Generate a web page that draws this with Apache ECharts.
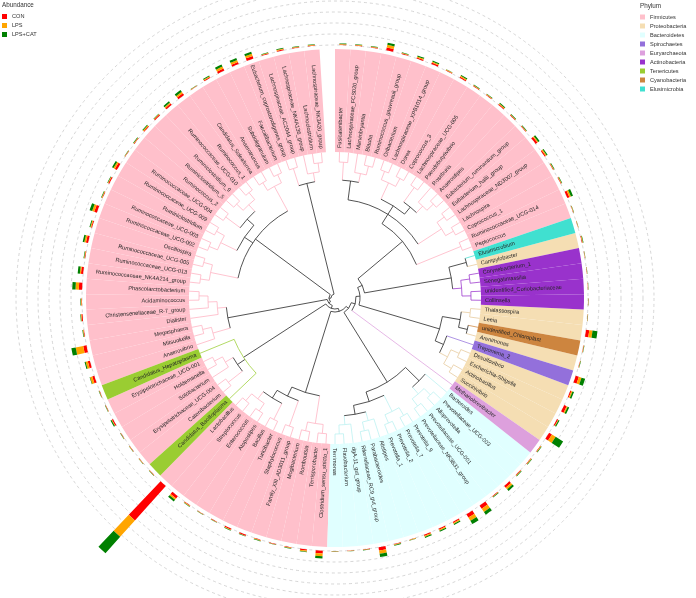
<!DOCTYPE html>
<html><head><meta charset="utf-8">
<script src="https://cdn.jsdelivr.net/npm/echarts@6/dist/echarts.min.js"></script>
<style>html,body{margin:0;padding:0;background:#fff}#c{width:696px;height:598px}</style>
</head><body><div id="c"></div>
<script>
// ---------------- data ----------------
const genera = ['Fusicatenibacter','Lachnospiraceae_FCS020_group','Marvinbryantia','Blautia','Ruminococcus_gauvreauii_group','Oribacterium','Lachnospiraceae_XPB1014_group','Dorea','Coprococcus_3','Lachnospiraceae_UCG-005','Pseudobutyrivibrio','Roseburia','Anaerostipes','Eubacterium_ruminantium_group','Eubacterium_hallii_group','Lachnospiraceae_ND3007_group','Lachnospira','Coprococcus_1','Ruminococcaceae_UCG-014','Peptococcus',
'Elusimicrobium','Campylobacter','Corynebacterium_1','Senegalimassilia','unidentified_Coriobacteriaceae','Collinsella','Thalassospira','Leeia','unidentified_Chloroplast','Arenimonas','Treponema_2','Desulfovibrio','Escherichia-Shigella','Actinobacillus','Succinivibrio','Methanobrevibacter',
'Bacteroides','Prevotellaceae_UCG-003','Alloprevotella','Prevotellaceae_UCG-001','Prevotellaceae_NK3B31_group','Prevotella_9','Prevotella_7','Prevotella_2','Prevotella_1','Alistipes','Parabacteroides','Rikenellaceae_RC9_gut_group','dgA-11_gut_group','Flavobacterium','Terrimonas',
'Clostridium_sensu_stricto_1','Terrisporobacter','Romboutsia','Mogibacterium','Family_XIII_AD3011_group','Staphylococcus','Turicibacter','Bacillus','Atopostipes','Enterococcus','Streptococcus','Lactobacillus',
'Candidatus_Bacilloplasma','Catenibacterium','Erysipelotrichaceae_UCG-004','Solobacterium','Holdemanella','Erysipelotrichaceae_UCG-001','Candidatus_Hepatoplasma',
'Anaerovibrio','Mitsuokella','Megasphaera','Dialister','Christensenellaceae_R-7_group','Acidaminococcus','Phascolarctobacterium',
'Ruminococcaceae_NK4A214_group','Ruminococcaceae_UCG-013','Ruminococcaceae_UCG-005','Oscillospira','Ruminococcaceae_UCG-002','Ruminococcaceae_UCG-003','Ruminiclostridium','Ruminococcaceae_UCG-009','Ruminococcaceae_UCG-004','Ruminococcus_2','Ruminiclostridium_5','Ruminiclostridium_9','Ruminococcaceae_UCG-010','Ruminococcus_1','Candidatus_Soleaferrea','Anaerotruncus','Subdoligranulum','Faecalibacterium','Eubacterium_coprostanoligenes_group','Lachnospiraceae_AC2044_group','Lachnospiraceae_NK4A136_group','Lachnoclostridium','Lachnospiraceae_NK3A20_group'];

const phylumNames = ['Firmicutes','Proteobacteria','Bacteroidetes','Spirochaetes','Euryarchaeota','Actinobacteria','Tenericutes','Cyanobacteria','Elusimicrobia'];
// F Firmicutes, P Proteobacteria, B Bacteroidetes, S Spirochaetes, E Euryarchaeota, A Actinobacteria, T Tenericutes, C Cyanobacteria, L Elusimicrobia
const phylumCodes = ['F','P','B','S','E','A','T','C','L'];
const leafPhylum = ['F','F','F','F','F','F','F','F','F','F','F','F','F','F','F','F','F','F','F','F',
'L','P','A','A','A','A','P','P','C','P','S','P','P','P','P','E',
'B','B','B','B','B','B','B','B','B','B','B','B','B','B','B',
'F','F','F','F','F','F','F','F','F','F','F','F',
'T','F','F','F','F','F','T',
'F','F','F','F','F','F','F',
'F','F','F','F','F','F','F','F','F','F','F','F','F','F','F','F','F','F','F','F','F','F','F'];

const groupNames = ['CON','LPS','LPS+CAT'];
// relative abundance per genus (axis units)
const abCON = [0.05,0.05,0.05,0.25,0.05,0.1,0.15,0.05,0.1,0.05,0.05,0.08,0.05,0.05,0.2,0.1,0.05,0.05,0.2,0.03,
0.02,0.05,0.02,0.02,0.02,0.02,0.02,0.3,0.03,0.03,0.3,0.1,0.25,0.1,0.3,0.05,
0.05,0.05,0.2,0.05,0.35,0.35,0.1,0.1,0.1,0.03,0.05,0.3,0.03,0.02,0.02,
0.25,0.1,0.05,0.03,0.05,0.1,0.1,0.03,0.03,0.05,0.25,4.2,
0.03,0.03,0.03,0.03,0.1,0.03,0.03,
0.2,0.2,0.3,0.05,0.1,0.05,0.3,
0.2,0.05,0.2,0.08,0.25,0.05,0.1,0.2,0.03,0.05,0.08,0.1,0.15,0.2,0.03,0.08,0.2,0.2,0.25,0.05,0.08,0.05,0.05];
const abLPS = [0.05,0.05,0.05,0.25,0.05,0.1,0.1,0.05,0.1,0.05,0.05,0.08,0.05,0.05,0.1,0.1,0.05,0.05,0.15,0.03,
0.02,0.05,0.02,0.02,0.02,0.02,0.02,0.3,0.03,0.03,0.25,0.1,0.1,0.05,0.4,0.05,
0.05,0.05,0.2,0.05,0.35,0.35,0.1,0.1,0.1,0.03,0.05,0.3,0.03,0.02,0.02,
0.25,0.1,0.05,0.03,0.05,0.03,0.05,0.03,0.03,0.05,0.15,2.0,
0.03,0.03,0.03,0.03,0.05,0.03,0.03,
0.2,0.2,0.7,0.05,0.05,0.05,0.3,
0.1,0.05,0.15,0.08,0.2,0.05,0.05,0.15,0.03,0.05,0.08,0.05,0.1,0.15,0.03,0.08,0.2,0.2,0.2,0.05,0.08,0.05,0.05];
const abCAT = [0.05,0.05,0.05,0.2,0.05,0.1,0.1,0.03,0.1,0.05,0.05,0.08,0.05,0.05,0.15,0.1,0.05,0.05,0.2,0.03,
0.02,0.05,0.02,0.02,0.02,0.02,0.02,0.45,0.03,0.03,0.35,0.15,0.15,0.1,0.8,0.05,
0.05,0.05,0.2,0.05,0.3,0.35,0.1,0.1,0.1,0.03,0.05,0.3,0.03,0.02,0.02,
0.2,0.05,0.05,0.03,0.05,0.03,0.05,0.03,0.03,0.05,0.2,2.0,
0.03,0.03,0.03,0.03,0.1,0.03,0.03,
0.05,0.1,0.4,0.05,0.05,0.05,0.3,
0.2,0.05,0.15,0.08,0.25,0.05,0.05,0.15,0.03,0.05,0.08,0.05,0.15,0.2,0.03,0.08,0.2,0.2,0.2,0.05,0.08,0.05,0.05];

// tree topology (leaf = genus index)
const cladeLachR = [[[[0,1],[2,[3,4]]],[[[5,6],[7,8]],[[9,10],[11,[12,13]]]],[[14,15],[16,17]]],[18,19]];
const cladeMisc = [[20,21],[[22,23],[24,25]]];
const cladeProt = [[[26,27],[28,29]],[30,[[31,32],[33,34]]]];
const cladeEury = 35;
const cladeBact = [[36,[[37,38],[39,40]]],[[[41,42],[43,44]],[[45,[46,47]],[48,[49,50]]]]];
const cladeBacilli = [[[51,52],[53,54]],[[55,56],[[57,58],[[59,60],[61,62]]]]];
const cladeEry = [63,[[64,65],[66,[67,68]]],69];
const cladeNeg = [[70,[71,72]],[73,[74,[75,76]]]];
const cladeRum = [[[77,78],[79,80]],[[[81,82],[83,84]],[[85,86],[[87,88],[89,90]]]],[[91,92],[93,94]]];
const cladeLachL = [[95,96],[97,[98,99]]];
const tree = [[[[[[[[[cladeLachR, cladeMisc], cladeProt], cladeEury], cladeBact], cladeBacilli], cladeEry], cladeNeg], cladeRum], cladeLachL];

// ---------------- styles ----------------
const phylumColors = ['#FFC0CB','#F5DEB3','#E0FFFF','#9370DB','#DDA0DD','#9932CC','#9ACD32','#CD853F','#40E0D0'];
const branchColors = ['#FFB0C0','#E6C89A','#B8F0F0','#9370DB','#DDA0DD','#9932CC','#9ACD32','#CD853F','#40E0D0'];
const groupColors = ['#FF0000','#FFA500','#008000'];
const TIP_R = 146, BAND_R = 249, LABEL_R = 150;
const radiusByHeight = [146,136,127,118,109,99,88,30,25,21,17,14,11,8,6,4];
const FONT = 'Liberation Sans, Arial, Helvetica, sans-serif';

const cats = genera.concat(['']);
const phIdx = c => phylumCodes.indexOf(c);

function layoutTree(t){
  const nodes = [];
  function walk(x){
    let n;
    if (typeof x === 'number'){ n = {f:x, h:0, ph:leafPhylum[x], size:1}; }
    else {
      const ch = x.map(walk);
      n = {children:ch, f:(ch[0].f + ch[ch.length-1].f)/2, h:Math.max(...ch.map(c=>c.h))+1,
           size: ch.reduce((s,c)=>s+c.size,0)};
      const ps = new Set(ch.map(c=>c.ph));
      n.ph = (ps.size===1 && !ps.has(null)) ? ch[0].ph : null;
      const a = ch[0].ph, b = ch[ch.length-1].ph;
      n.arcPh = (a && a===b && a!=='F' && ch[0].size===1 && ch[ch.length-1].size===1) ? a : null;
      ch.forEach(c=>c.parent=n);
    }
    nodes.push(n); return n;
  }
  const root = walk(t);
  nodes.forEach(n => n.r = radiusByHeight[Math.min(n.h, radiusByHeight.length-1)]);
  return {nodes, root};
}
const L = layoutTree(tree);

function edgeColor(n){
  if (n.ph && n.size <= 4) return branchColors[phIdx(n.ph)];
  return '#1a1a1a';
}
function arcColor(n){
  if (n.arcPh) return branchColors[phIdx(n.arcPh)];
  return edgeColor(n);
}

function renderTree(params, api){
  const c = api.coord([0,0]);
  const pa = api.coord([100,0]), pb = api.coord([100,1]);
  const a0 = Math.atan2(pa[1]-c[1], pa[0]-c[0]);
  let st = Math.atan2(pb[1]-c[1], pb[0]-c[0]) - a0;
  if (st < -Math.PI) st += 2*Math.PI; if (st > Math.PI) st -= 2*Math.PI;
  const ang = f => a0 + f*st;
  const rpx = v => { const p = api.coord([v,0]); return Math.hypot(p[0]-c[0], p[1]-c[1]); };
  const pt = (r,f) => { const R = rpx(r), a = ang(f); return [c[0]+R*Math.cos(a), c[1]+R*Math.sin(a)]; };
  const els = [];
  L.nodes.forEach(n => {
    if (n.parent){
      const p1 = pt(n.parent.r, n.f), p2 = pt(n.r, n.f);
      els.push({type:'line', shape:{x1:p1[0],y1:p1[1],x2:p2[0],y2:p2[1]}, style:{stroke:edgeColor(n), lineWidth:0.75}});
    }
    if (n.children){
      const f1 = n.children[0].f, f2 = n.children[n.children.length-1].f;
      els.push({type:'arc', shape:{cx:c[0], cy:c[1], r:rpx(n.r), startAngle:ang(f1), endAngle:ang(f2), clockwise:true},
        style:{stroke:arcColor(n), lineWidth:0.75, fill:null}});
    }
  });
  return {type:'group', children:els};
}

function renderLabel(params, api){
  const c = api.coord([0,0]);
  const p = api.coord([api.value(0), api.value(1)]);
  const a = Math.atan2(p[1]-c[1], p[0]-c[0]);
  const left = Math.cos(a) < -1e-6;
  return {type:'text', x:p[0], y:p[1], rotation: left ? -a + Math.PI : -a,
    style:{text: genera[params.dataIndex], fontSize:5.6, fontFamily:FONT,
      fill:'#262626', align: left ? 'right' : 'left', verticalAlign:'middle'}};
}

const series = [];
series.push({type:'bar', name:'_base', coordinateSystem:'polar', polarIndex:0, stack:'band', silent:true,
  barCategoryGap:'0%', itemStyle:{color:'rgba(0,0,0,0)'}, data: genera.map(()=>TIP_R)});
phylumNames.forEach((ph,k) => {
  series.push({type:'bar', name:ph, coordinateSystem:'polar', polarIndex:0, stack:'band', silent:true,
    barCategoryGap:'0%', itemStyle:{color:phylumColors[k]},
    data: genera.map((g,i)=> leafPhylum[i]===phylumCodes[k] ? BAND_R-TIP_R : '-')});
});
series.push({type:'custom', name:'_tree', coordinateSystem:'polar', polarIndex:0, silent:true, data:[[0,0]], renderItem:renderTree, z:5});
series.push({type:'custom', name:'_labels', coordinateSystem:'polar', polarIndex:0, silent:true,
  data: genera.map((g,i)=>[LABEL_R, i]), renderItem:renderLabel, z:6});
[abCON, abLPS, abCAT].forEach((arr,k) => {
  series.push({type:'bar', name:groupNames[k], coordinateSystem:'polar', polarIndex:1, stack:'ab', silent:true,
    clip:false, barWidth:'45%', itemStyle:{color:groupColors[k]}, data: arr.slice()});
});

const hiddenAxis = {axisLine:{show:false}, axisTick:{show:false}, axisLabel:{show:false}, splitLine:{show:false}, splitArea:{show:false}};
const legendText = {fontSize:5.6, color:'#333', fontFamily:FONT, lineHeight:7};

const option = {
  animation:false,
  backgroundColor:'#fff',
  title:[
    {text:'Abundance', left:2, top:2, padding:0, textStyle:{fontSize:6.3, fontWeight:'normal', color:'#333', fontFamily:FONT}},
    {text:'Phylum', left:640, top:3, padding:0, textStyle:{fontSize:6.3, fontWeight:'normal', color:'#333', fontFamily:FONT}}
  ],
  legend:[
    {data:groupNames, orient:'vertical', left:2, top:13, padding:0, icon:'rect', itemWidth:5, itemHeight:5, itemGap:2,
      textStyle:legendText, selectedMode:false},
    {data:phylumNames, orient:'vertical', left:640, top:13.5, padding:0, icon:'rect', itemWidth:5, itemHeight:5, itemGap:2,
      textStyle:legendText, selectedMode:false}
  ],
  polar:[
    {center:[335,298], radius:[0,320]},
    {center:[335,298], radius:[253,319]}
  ],
  angleAxis:[
    Object.assign({type:'category', data:cats, polarIndex:0, startAngle:90, clockwise:true, boundaryGap:true}, hiddenAxis),
    Object.assign({type:'category', data:cats, polarIndex:1, startAngle:90, clockwise:true, boundaryGap:true}, hiddenAxis)
  ],
  radiusAxis:[
    Object.assign({type:'value', polarIndex:0, min:0, max:320}, hiddenAxis),
    Object.assign({type:'value', polarIndex:1, min:0, max:6, interval:1}, hiddenAxis,
      {splitLine:{show:true, lineStyle:{type:[3,3], color:'#c4c4c4', width:0.7}}})
  ],
  series
};
const chart = echarts.init(document.getElementById('c'), null, {renderer:'canvas'});
chart.setOption(option);
</script>
</body></html>
